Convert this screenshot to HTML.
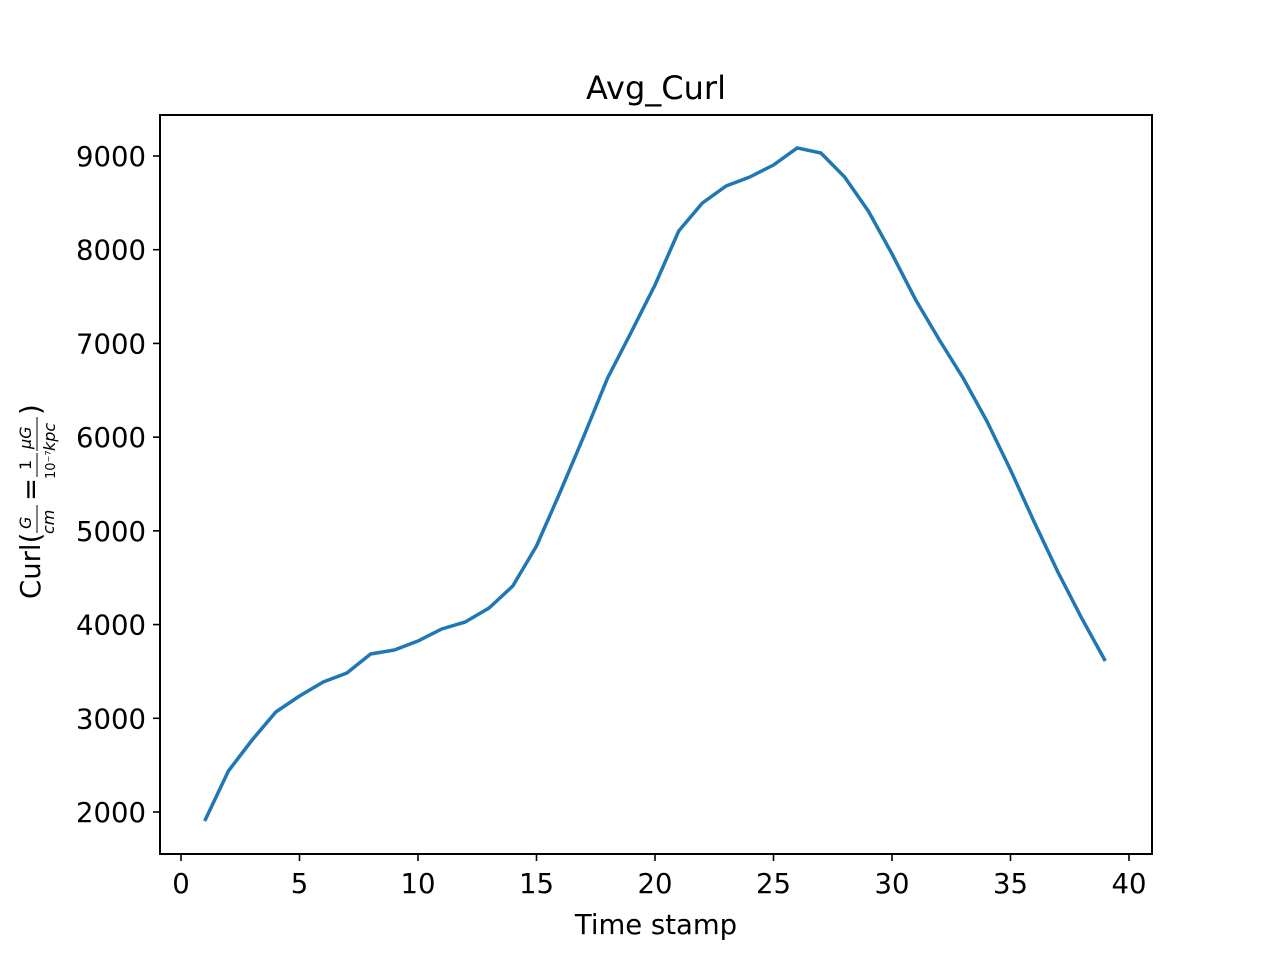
<!DOCTYPE html>
<html><head><meta charset="utf-8"><style>body{margin:0;background:#fff}svg{display:block}text{font-family:"DejaVu Sans","Liberation Sans",sans-serif;fill:#000}</style></head>
<body>
<svg id="chart" width="1280" height="960" viewBox="0 0 1280 960" xmlns="http://www.w3.org/2000/svg">
<rect width="1280" height="960" fill="#fff"/>
<text x="656" y="99" font-size="32" text-anchor="middle">Avg_Curl</text>
<g id="xticks"></g>
<g id="yticks"></g>
<path id="line" fill="none" stroke="#1f77b4" stroke-width="3.5" stroke-linejoin="round"/>
<rect x="160" y="115" width="992" height="739" fill="none" stroke="#000" stroke-width="2"/>
<text x="656" y="934" font-size="27.5" text-anchor="middle">Time stamp</text>
<g transform="translate(40,489) rotate(-90)">
<text x="-110" y="0" font-size="27.5">Curl(</text>
<text x="-40" y="-9" font-size="16" font-style="italic">G</text>
<line x1="-44" y1="-3" x2="-16" y2="-3" stroke="#000" stroke-width="1"/>
<text x="-45" y="14" font-size="16" font-style="italic">cm</text>
<text x="-12" y="0" font-size="27.5">=</text>
<text x="19" y="-9" font-size="16">1</text>
<line x1="12" y1="-3" x2="36" y2="-3" stroke="#000" stroke-width="1"/>
<text x="10" y="15" font-size="13">10⁻⁷</text>
<text x="40" y="-9" font-size="16" font-style="italic">μG</text>
<line x1="38" y1="-3" x2="72" y2="-3" stroke="#000" stroke-width="1"/>
<text x="38" y="15" font-size="16" font-style="italic">kpc</text>
<text x="74" y="0" font-size="27.5">)</text>
</g>
</svg>
<script>
const timeStamps=[1,2,3,4,5,6,7,8,9,10,11,12,13,14,15,16,17,18,19,20,21,22,23,24,25,26,27,28,29,30,31,32,33,34,35,36,37,38,39];
const curlValues=[1904,2437,2768,3067,3238,3387,3483,3686,3729,3825,3953,4028,4177,4412,4838,5415,6012,6631,7122,7624,8200,8499,8680,8776,8904,9086,9032,8776,8413,7955,7464,7037,6631,6172,5650,5095,4561,4070,3611];
const xTickLabels=[0,5,10,15,20,25,30,35,40];
const yTickLabels=[2000,3000,4000,5000,6000,7000,8000,9000];
const NS='http://www.w3.org/2000/svg';
function xS(v){return 181+(v-0)*(1129-181)/40;}
function yS(v){return 812-(v-2000)*(812-156)/7000;}
const xg=document.getElementById('xticks'),yg=document.getElementById('yticks');
xTickLabels.forEach(t=>{
 const l=document.createElementNS(NS,'line');
 
 
 l.setAttribute('x1',xS(t));l.setAttribute('x2',xS(t));l.setAttribute('y1',854);l.setAttribute('y2',861);l.setAttribute('stroke','#000');l.setAttribute('stroke-width','1.6');xg.appendChild(l);
 const tx=document.createElementNS(NS,'text');
 
 
 tx.setAttribute('x',xS(t));tx.setAttribute('y',893);tx.setAttribute('font-size','27.5');tx.setAttribute('text-anchor','middle');tx.textContent=t;xg.appendChild(tx);
});
yTickLabels.forEach(t=>{
 const l=document.createElementNS(NS,'line');
 
 
 l.setAttribute('x1',153);l.setAttribute('x2',160);l.setAttribute('y1',yS(t));l.setAttribute('y2',yS(t));l.setAttribute('stroke','#000');l.setAttribute('stroke-width','1.6');yg.appendChild(l);
 const tx=document.createElementNS(NS,'text');
 
 
 tx.setAttribute('x',146);tx.setAttribute('y',yS(t)+10);tx.setAttribute('font-size','27.5');tx.setAttribute('text-anchor','end');tx.textContent=t;yg.appendChild(tx);
});
document.getElementById('line').setAttribute('d',timeStamps.map((t,i)=>(i?'L':'M')+xS(t).toFixed(1)+','+yS(curlValues[i]).toFixed(1)).join(' '));
</script>
</body></html>
